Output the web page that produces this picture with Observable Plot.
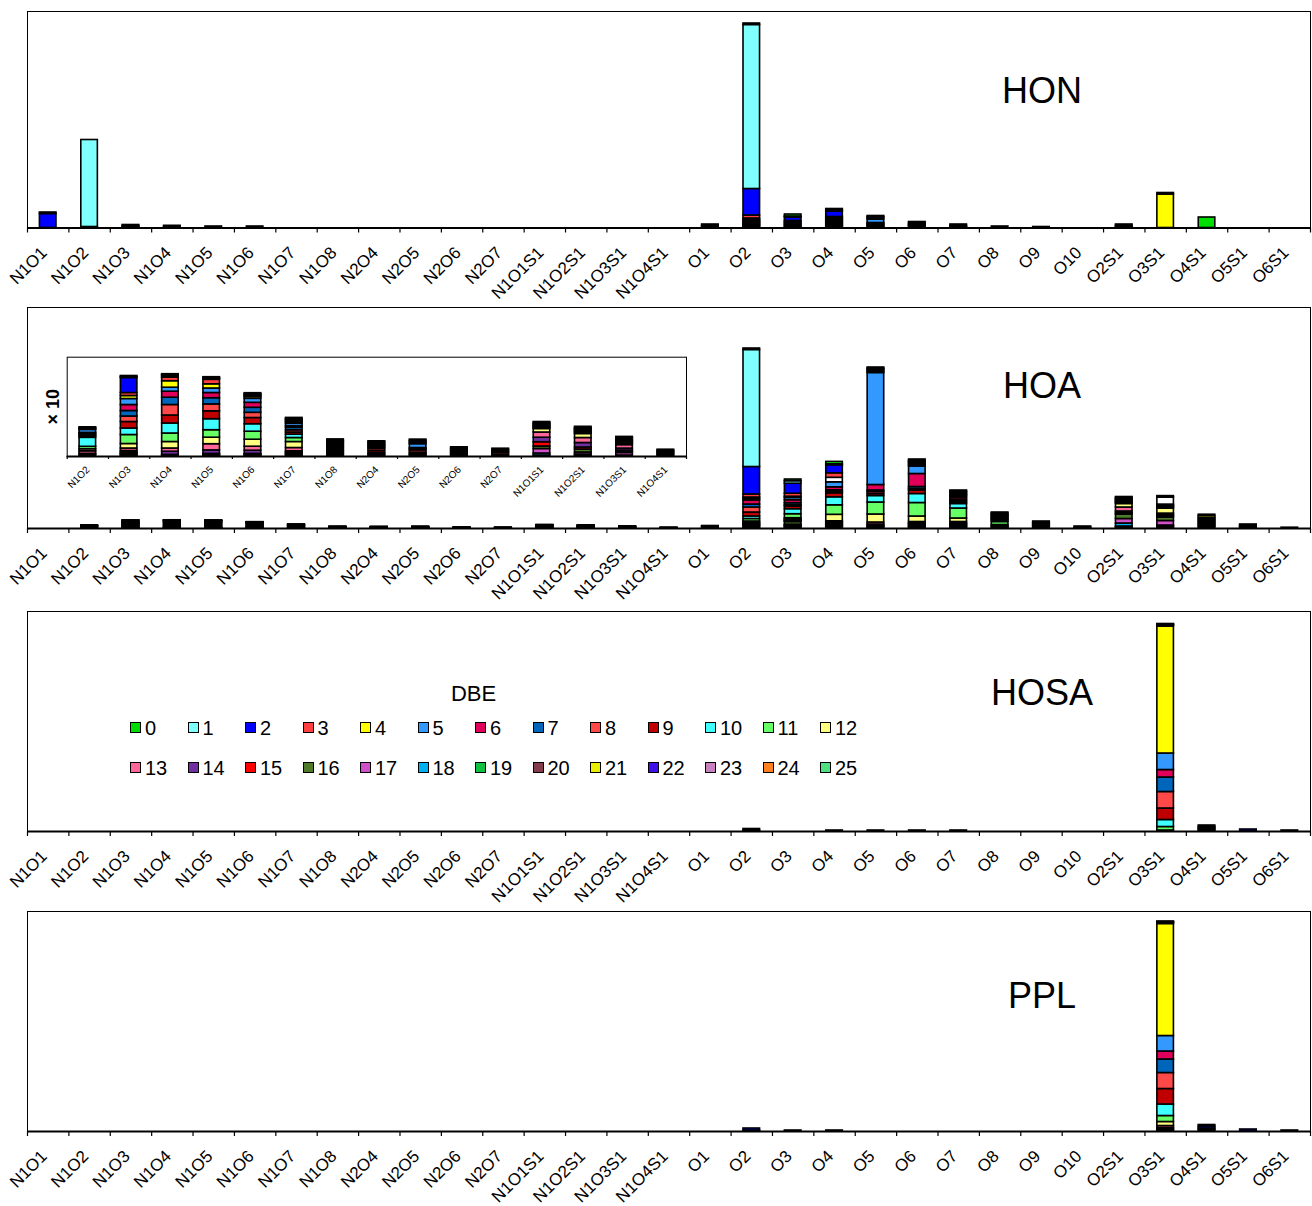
<!DOCTYPE html>
<html><head><meta charset="utf-8">
<script src="https://cdn.jsdelivr.net/npm/d3@7"></script>
<script src="https://cdn.jsdelivr.net/npm/@observablehq/plot@0.6"></script>
<style>
body{margin:0;background:#fff;font-family:"Liberation Sans",Arial,sans-serif;}
#root{position:relative;width:1312px;height:1206px;overflow:hidden;background:#fff;}
.abs{position:absolute;}
.ttl{position:absolute;width:240px;text-align:center;font-size:36px;line-height:40px;color:#000;}
.sw{position:absolute;width:11px;height:11px;box-sizing:border-box;border:1.5px solid #000;}
.lt{position:absolute;font-size:20px;line-height:24px;color:#000;white-space:nowrap;}
</style></head><body><div id="root"></div>
<script>
const categories = ["N1O1","N1O2","N1O3","N1O4","N1O5","N1O6","N1O7","N1O8","N2O4","N2O5","N2O6","N2O7","N1O1S1","N1O2S1","N1O3S1","N1O4S1","O1","O2","O3","O4","O5","O6","O7","O8","O9","O10","O2S1","O3S1","O4S1","O5S1","O6S1"];
const insetCategories = ["N1O2","N1O3","N1O4","N1O5","N1O6","N1O7","N1O8","N2O4","N2O5","N2O6","N2O7","N1O1S1","N1O2S1","N1O3S1","N1O4S1"];
const panelNames = ["HON","HOA","HOSA","PPL"];
const dbeLevels = [0,1,2,3,4,5,6,7,8,9,10,11,12,13,14,15,16,17,18,19,20,21,22,23,24,25];
const dbeColors = ["#00dd00","#80ffff","#0000ff","#ff4040","#ffff00","#3399ff","#e0005a","#0066bb","#ff4848","#c00000","#40ffff","#66ff66","#ffff80","#ff6699","#7030a0","#ff0000","#4e7a2a","#d050c8","#00b0f0","#10c040","#843c4c","#e8f000","#4010e8","#c880c0","#ff8020","#50e080"];

// segments per bar, listed bottom -> top: [DBE, value]; "w" = unlabelled white series
const honBars = [
 ["N1O1", [[2,14],[0,1.5]]],
 ["N1O2", [[3,1],[1,87]]],
 ["N1O3", [[5,1],[3,1],[2,1]]],
 ["N1O4", [[3,1],[2,1.2]]],
 ["N1O5", [[2,1.5]]],
 ["N1O6", [[2,1.5]]],
 ["O1", [[5,1],[3,1],[2,1.5]]],
 ["O2", [[12,1],[11,1],[10,1],[9,1],[8,1],[7,1],[6,1],[5,1],[4,1.5],[3,3],[2,26.5],[1,164],[0,1.5]]],
 ["O3", [[7,1],[6,1.5],[5,1.5],[4,1.5],[3,1.5],[2,3.5],[1,1],[0,2]]],
 ["O4", [[12,1],[11,1],[10,1],[9,1],[8,1],[7,1.5],[6,1],[5,1.5],[4,1],[3,1],[2,5.5],[1,1],[0,1.5]]],
 ["O5", [[10,1],[9,1],[8,1],[7,1],[6,1],[5,3.5],[2,1.5],[1,1],[0,1]]],
 ["O6", [[7,1.5],[5,1],[3,1],[2,1.5],[0,1]]],
 ["O7", [[5,1],[3,1],[2,1.5]]],
 ["O8", [[2,1.5]]],
 ["O9", [[2,1]]],
 ["O2S1", [[5,1],[3,1],[2,1.5]]],
 ["O3S1", [[4,33.5],[0,1.5]]],
 ["O4S1", [[0,10.5]]]
];

const hoaBars = [
 ["N1O2", [[19,1.5],[14,1.2],[13,2.5],[12,2],[11,2.5],[10,9],[9,1.5],[8,1.2],[7,1.2],[6,1],[5,3],[3,1],[2,0.8],[0,0.8]]],
 ["N1O3", [[20,1],[17,1],[16,1],[15,1],[14,1.5],[13,2.5],[12,4.5],[11,9],[10,6.5],[9,6.5],[8,5.5],[7,5.5],[6,6],[5,6],[4,3],[3,3],[2,15],[1,1],[0,1]]],
 ["N1O4", [[16,0.8],[15,0.8],[14,3.2],[13,3.2],[12,6.5],[11,8.5],[10,10],[9,8],[8,10.5],[7,7.3],[6,6],[5,4],[4,6.5],[3,3.5],[2,1.5],[1,1],[0,1]]],
 ["N1O5", [[17,0.8],[16,0.8],[15,1],[14,3.5],[13,6.2],[12,6.5],[11,7.5],[10,11],[9,7.9],[8,6.9],[7,6.2],[6,5.2],[5,4.5],[4,4.2],[3,4.5],[2,1],[1,0.8],[0,0.8]]],
 ["N1O6", [[17,0.8],[16,1],[15,0.8],[14,3.2],[13,4],[12,7],[11,8],[10,7.5],[9,6.2],[8,5.2],[7,5],[6,5],[5,4],[4,1.8],[3,1],[2,1],[1,0.8],[0,1]]],
 ["N1O7", [[20,1],[17,1],[16,1],[15,1],[14,1.2],[13,3.3],[12,6],[11,4],[10,3.3],[9,2.2],[8,2.2],[7,2.5],[6,1.5],[5,2.5],[4,1.5],[3,1.2],[2,1.2],[1,1],[0,1]]],
 ["N1O8", [[16,1.2],[14,1.2],[13,1.2],[12,1.3],[11,1.2],[10,1.5],[9,1.2],[7,1.5],[6,1.2],[5,1.2],[3,1.2],[2,1.2],[1,0.8],[0,1.2]]],
 ["N2O4", [[16,1.2],[14,1.2],[11,1.2],[9,2],[8,2],[7,1.2],[6,1.2],[5,1.2],[3,1.2],[2,1.2],[1,1],[0,0.6]]],
 ["N2O5", [[14,1.2],[11,1.2],[9,1.5],[8,2.2],[7,1.2],[6,1.2],[5,3.8],[4,1.2],[3,1.2],[2,1.2],[0,1]]],
 ["N2O6", [[9,1.2],[7,1.2],[6,1.2],[5,1.2],[3,1.2],[2,1.2],[1,1],[0,1]]],
 ["N2O7", [[9,1.2],[8,2],[5,1.2],[3,1.2],[2,1.2],[0,1]]],
 ["N1O1S1", [[19,1],[18,2],[17,4.5],[16,2.5],[15,4.3],[14,4.5],[13,5.2],[12,3.5],[11,1],[10,1],[9,1],[7,1],[5,1],[3,1],[0,1]]],
 ["N1O2S1", [[19,1],[18,1],[17,2],[16,3],[15,2],[14,4.5],[13,5],[12,4],[11,1],[10,1],[9,1],[7,1],[5,1],[3,1],[0,1.2]]],
 ["N1O3S1", [[18,1],[17,2.5],[16,1.2],[15,1.2],[14,2],[13,3.5],[12,1.2],[11,1.2],[9,1.2],[7,1.2],[5,1.2],[3,1.2],[0,1]]],
 ["N1O4S1", [[17,1.2],[13,1.2],[9,1.2],[5,1.2],[3,1],[0,1]]],
 ["O1", [[3,10],[2,10],[0,5]]],
 ["O2", [[17,10],[16,15],[15,10],[14,10],[13,10],[12,15],[11,25],[10,25],[9,40],[8,50],[7,30],[6,40],[5,15],[4,15],[3,30],[2,275],[1,1170],[0,15]]],
 ["O3", [[20,10],[19,10],[18,8],[17,10],[16,27],[15,8],[14,8],[13,10],[12,12],[11,40],[10,50],[9,25],[8,15],[7,20],[6,30],[5,23],[4,12],[3,30],[2,100],[1,25],[0,17]]],
 ["O4", [[19,10],[18,10],[17,10],[16,10],[15,10],[14,10],[13,12],[12,65],[11,95],[10,80],[9,40],[8,15],[7,15],[6,30],[5,50],["w",45],[3,45],[2,80],[1,10],[0,24]]],
 ["O5", [[20,10],[19,10],[17,10],[14,10],[13,20],[12,80],[11,120],[10,65],[9,20],[8,20],[7,15],[6,55],[5,1120],[4,10],[3,15],[2,10],[1,10],[0,10]]],
 ["O6", [[18,10],[17,10],[16,10],[15,10],[14,10],[13,15],[12,55],[11,135],[10,90],[9,35],[8,15],[7,20],[6,130],[5,75],[4,15],[3,15],[2,15],[1,10],[0,15]]],
 ["O7", [[20,10],[19,10],[18,10],[16,10],[14,10],[13,15],[12,35],[11,100],[10,45],[9,15],[8,15],[7,15],[6,20],[5,15],[4,10],[3,10],[2,15],[1,10],[0,10]]],
 ["O8", [[16,10],[13,10],[12,15],[11,30],[10,15],[9,10],[7,10],[6,10],[5,10],[3,10],[2,10],[1,10],[0,10]]],
 ["O9", [[10,10],[9,10],[6,10],[5,10],[3,10],[2,10],[0,10]]],
 ["O10", [[5,10],[2,10]]],
 ["O2S1", [[20,10],[19,10],[18,30],[17,45],[16,45],[15,15],[14,15],[13,40],[12,35],[11,10],[10,10],[9,10],[7,10],[5,10],[3,10],[0,10]]],
 ["O3S1", [[20,10],[19,10],[18,10],[17,45],[16,35],[15,12],[14,12],[13,15],[12,50],[11,10],[10,10],[9,10],[5,10],["w",70],[0,15]]],
 ["O4S1", [[16,15],[13,15],[10,15],[9,15],[7,15],[6,15],[5,15],[4,20],[0,13]]],
 ["O5S1", [[9,10],[5,10],[2,10],[0,10]]],
 ["O6S1", [[2,8]]]
];

const hosaBars = [
 ["O2", [[5,1],[2,1.5]]],
 ["O4", [[2,1]]], ["O5", [[2,1]]], ["O6", [[2,1]]], ["O7", [[2,1]]],
 ["O3S1", [[16,1],[11,3.5],[10,7],[9,11.5],[8,16.5],[7,14.5],[6,7.5],[5,16.5],[4,127],[3,1],[2,0.5],[1,0.5],[0,0.5]]],
 ["O4S1", [[5,1.5],[3,1.5],[2,1.5],[0,1.5]]],
 ["O5S1", [[2,2]]], ["O6S1", [[2,1]]]
];

const pplBars = [
 ["O2", [[5,1],[2,2]]], ["O3", [[2,1]]], ["O4", [[2,1]]],
 ["O3S1", [[16,1],[15,1],[14,1.5],[13,2],[12,4],[11,6],[10,11.5],[9,15.5],[8,16],[7,13.5],[6,8],[5,15.5],[4,112],[3,1],[2,0.5],[1,0.5],[0,0.5]]],
 ["O4S1", [[5,1.5],[3,1.5],[2,2],[0,1.5]]], ["O5S1", [[2,2]]], ["O6S1", [[2,1]]]
];

const root = document.getElementById("root");
const FONT = '"Liberation Sans", Arial, sans-serif';
const colorScale = {type: "ordinal", domain: [...dbeLevels, "w"], range: [...dbeColors, "#ffffff"]};

function toRows(bars, cats) {
  return bars.filter(([c]) => cats.includes(c))
    .flatMap(([c, segs]) => segs.map(([dbe, v]) => ({i: cats.indexOf(c), dbe, v})));
}

function barChart({bars, cats, ymax, left, top, width, mL, mR, mT, inner, mB, fontSize, dx, dy, tickPx, extra = []}) {
  const rows = toRows(bars, cats);
  const tickLen = tickPx * ymax / inner;
  const svg = Plot.plot({
    width, height: mT + inner + mB,
    marginLeft: mL, marginRight: mR, marginTop: mT, marginBottom: mB,
    x: {domain: [0, cats.length], axis: null},
    y: {domain: [0, ymax], axis: null},
    color: colorScale,
    style: {background: "transparent", overflow: "visible", fontFamily: FONT},
    marks: [
      Plot.frame({stroke: "black", strokeWidth: 1}),
      Plot.rectY(rows, Plot.stackY({x: "i", y: "v", x1: d => d.i + 0.3, x2: d => d.i + 0.7, fill: "dbe", stroke: "black", strokeWidth: 1.6})),
      Plot.ruleY([0], {stroke: "black", strokeWidth: 2}),
      Plot.ruleX(d3.range(cats.length + 1), {x: d => d, y1: () => 0, y2: () => -tickLen, stroke: "black", strokeWidth: 1.2}),
      Plot.text(cats, {x: (d, i) => i + 0.5, y: () => 0, text: d => d, rotate: -45, textAnchor: "end", dx, dy, fontSize, fill: "black", fontFamily: FONT}),
      ...extra
    ]
  });
  svg.classList.add("abs");
  svg.style.left = left + "px";
  svg.style.top = top + "px";
  root.appendChild(svg);
}

const panels = [
  {bars: honBars, ymax: 216.5, frameTop: 10.5, inner: 216.5, titleY: 91},
  {bars: hoaBars, ymax: 2210, frameTop: 307, inner: 221, titleY: 386},
  {bars: hosaBars, ymax: 220, frameTop: 611, inner: 220, titleY: 693},
  {bars: pplBars, ymax: 220, frameTop: 911, inner: 220, titleY: 996}
];

panels.forEach((p, k) => {
  barChart({bars: p.bars, cats: categories, ymax: p.ymax, left: 0, top: p.frameTop - 10, width: 1312,
    mL: 27, mR: 2, mT: 10, inner: p.inner, mB: 70, fontSize: 17, dx: -4, dy: 22, tickPx: 5});
  const t = document.createElement("div");
  t.className = "ttl";
  t.textContent = panelNames[k];
  t.style.left = (1042 - 120) + "px";
  t.style.top = (p.titleY - 20) + "px";
  root.appendChild(t);
});

// inset (HOA, nitrogen/sulfur groups magnified x10)
barChart({bars: hoaBars, cats: insetCategories, ymax: 99.3, left: 0, top: 340, width: 700,
  mL: 66.7, mR: 14, mT: 16.7, inner: 99.3, mB: 84, fontSize: 10, dx: 0, dy: 11.5, tickPx: 3,
  extra: [Plot.text(["× 10"], {frameAnchor: "left", textAnchor: "middle", dx: -14, rotate: -90, fontSize: 18, fontWeight: "bold", fill: "black", fontFamily: FONT})]});

// legend
const dbeTitle = document.createElement("div");
dbeTitle.className = "lt";
dbeTitle.style.cssText += "font-size:22px;line-height:26px;left:423.5px;width:100px;text-align:center;top:681px;";
dbeTitle.textContent = "DBE";
root.appendChild(dbeTitle);
dbeLevels.forEach((d, k) => {
  const row = k < 13 ? 0 : 1, col = k % 13;
  const x = 130 + col * 57.5, cy = row ? 767.5 : 727.5;
  const s = document.createElement("div");
  s.className = "sw";
  s.style.left = x + "px"; s.style.top = (cy - 5.5) + "px"; s.style.background = dbeColors[k];
  root.appendChild(s);
  const l = document.createElement("div");
  l.className = "lt";
  l.style.left = (x + 15) + "px"; l.style.top = (cy - 12) + "px";
  l.textContent = String(d);
  root.appendChild(l);
});
</script></body></html>
